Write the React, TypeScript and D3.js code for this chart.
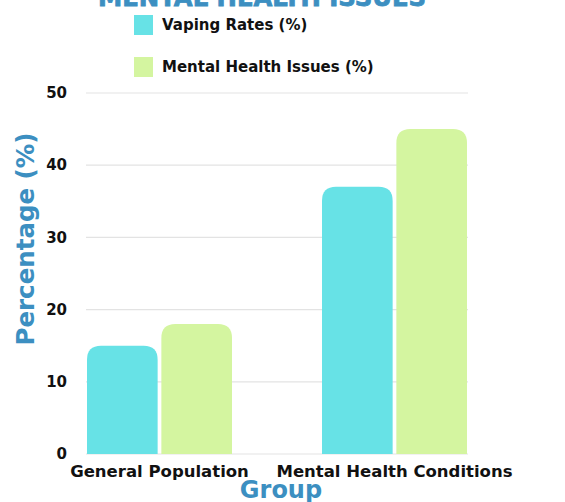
import React from "react";
import * as d3 from "d3";

const groups = ["General Population", "Mental Health Conditions"];
const seriesNames = ["Vaping Rates (%)", "Mental Health Issues (%)"];
const vapingRates = [15, 37];
const mentalHealthIssues = [18, 45];
const yTicks = [0, 10, 20, 30, 40, 50];
const title = "MENTAL HEALTH ISSUES";
const yLabel = "Percentage (%)";
const xLabel = "Group";

const colors = ["#67E2E6", "#D4F5A0"];
const blue = "#3C8FC1";
const font = "'DejaVu Sans', sans-serif";

function topRounded(x: number, y: number, w: number, h: number, r: number) {
  const rr = Math.min(r, w / 2, h);
  return `M${x},${y + h}V${y + rr}Q${x},${y} ${x + rr},${y}H${x + w - rr}Q${x + w},${y} ${x + w},${y + rr}V${y + h}Z`;
}

export default function App() {
  const W = 565, H = 502;
  const x0 = d3.scaleBand<string>().domain(groups).range([87, 467]).paddingInner(0.383).paddingOuter(0);
  const x1 = d3.scaleBand<string>().domain(seriesNames).range([0, x0.bandwidth()]).paddingInner(0.05);
  const y = d3.scaleLinear().domain([0, 50]).range([454, 93]);
  const series = [vapingRates, mentalHealthIssues];

  return (
    <svg width={W} height={H} style={{ position: "absolute", left: 0, top: 0, background: "#fff" }} fontFamily={font}>
      <text x={262} y={6} textAnchor="middle" fontSize={24} fontWeight={700} fill={blue} textLength={328} lengthAdjust="spacingAndGlyphs" stroke={blue} strokeWidth={0.8}>{title}</text>
      {seriesNames.map((s, i) => (
        <g key={s}>
          <rect x={134} y={15 + i * 42} width={19} height={20} fill={colors[i]} />
          <text x={162} y={30 + i * 42} fontSize={15} fontWeight={700} fill="#111">{s}</text>
        </g>
      ))}
      {yTicks.map((t) => (
        <g key={t}>
          {t > 0 && <line x1={86} x2={468} y1={y(t)} y2={y(t)} stroke="#e3e3e3" strokeWidth={1.2} />}
          <text x={67} y={y(t)} dy="0.35em" textAnchor="end" fontSize={15} fontWeight={700} fill="#111">{t}</text>
        </g>
      ))}
      <line x1={86} x2={468} y1={y(0)} y2={y(0)} stroke="#e3e3e3" strokeWidth={1.2} />
      {groups.map((g, gi) => (
        <g key={g} transform={`translate(${x0(g)},0)`}>
          {seriesNames.map((s, si) => {
            const v = series[si][gi];
            return (
              <path key={s} d={topRounded(x1(s)!, y(v), x1.bandwidth(), y(0) - y(v), 14)} fill={colors[si]} />
            );
          })}
          <text x={x0.bandwidth() / 2} y={471} dy="0.35em" textAnchor="middle" fontSize={16.5} fontWeight={700} fill="#111">{g}</text>
        </g>
      ))}
      <text x={281} y={490} dy="0.35em" textAnchor="middle" fontSize={24} fontWeight={700} fill={blue}>{xLabel}</text>
      <text transform={`translate(25,239) rotate(-90)`} dy="0.35em" textAnchor="middle" fontSize={24.5} fontWeight={700} fill={blue}>{yLabel}</text>
    </svg>
  );
}
